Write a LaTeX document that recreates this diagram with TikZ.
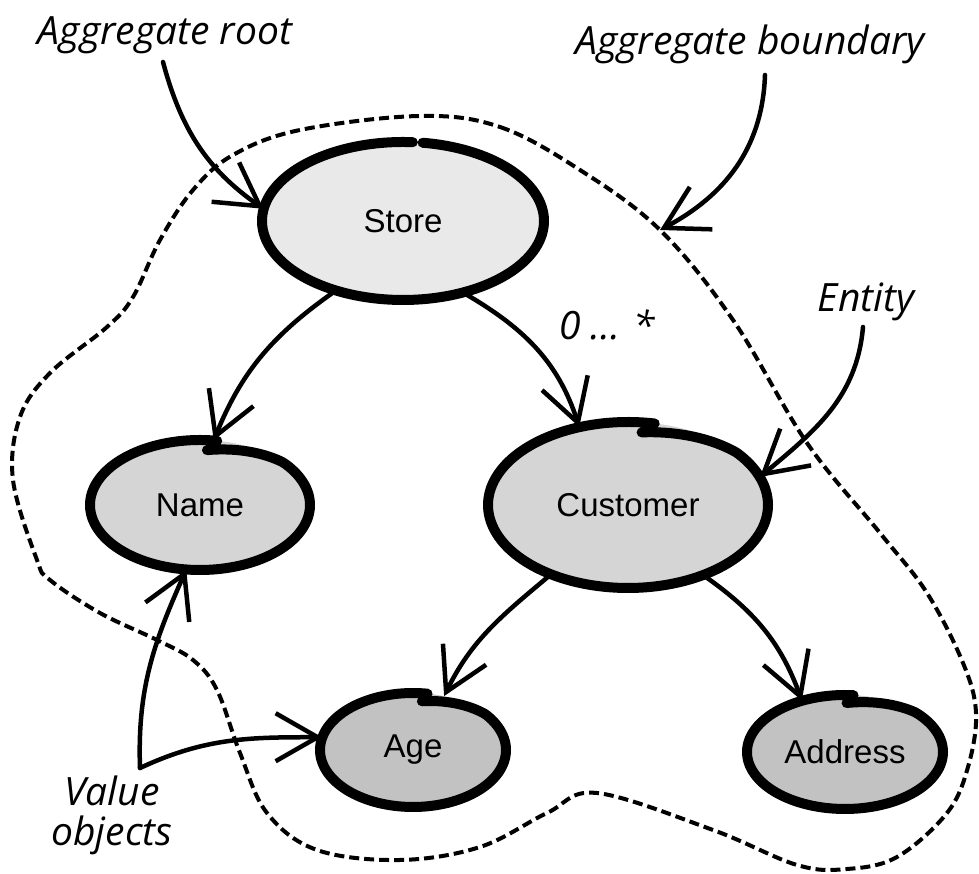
\documentclass[tikz,border=0pt]{standalone}
\usepackage{fontspec}
\setmainfont{Liberation Sans}
\newfontfamily\handfont{Open Sans}
\usetikzlibrary{arrows.meta,shapes.geometric}

\definecolor{rootfill}{HTML}{E9E9E9}
\definecolor{midfill}{HTML}{D5D5D5}
\definecolor{leaffill}{HTML}{C2C2C2}

% Hand-drawn outline of an ellipse node: a single stroke that starts slightly
% inside the rim at angle #4 and runs clockwise through #5 degrees.
% #1 node, #2 x radius, #3 y radius, #4 start angle, #5 sweep, #6 inward offset at start
\newcommand\rimstroke[6]{%
  \draw[rim, shift={(#1.center)}]
    plot[smooth, domain=#4:{#4-#5}, samples=140, variable=\t]
    ({(#2-#6*max(0,1-(#4-\t)/45))*cos(\t)},
     {(#3-#6*max(0,1-(#4-\t)/45))*sin(\t)});}

\tikzset{
  blob/.style={ellipse, inner sep=0pt, draw=none,
    font=\fontsize{33}{36}\selectfont, text=black},
  rim/.style={line width=10pt, line cap=round, line join=round},
  link/.style={line width=4.5pt, line cap=round,
    -{Straight Barb[length=42pt, width=48pt]}},
  hand/.style={font=\handfont\itshape\fontsize{39}{40}\selectfont, inner sep=0pt},
  boundary/.style={line width=4pt, dash pattern=on 10pt off 5pt},
}

\begin{document}
\begin{tikzpicture}[x=1pt, y=1pt]
\useasboundingbox (0,0) rectangle (979,874);

% aggregate boundary
\draw[boundary] plot[smooth cycle, tension=0.6] coordinates {
  (420,758) (500,747) (580,704) (660,644) (733,554) (807,431) (880,341)
  (927,281) (963,211) (976,161) (968,107) (947,61) (897,17) (847,5)
  (797,9) (713,44) (597,81) (547,61) (480,27) (400,14) (317,24) (267,61)
  (240,121) (217,184) (193,214) (157,234) (100,261) (50,294) (37,314)
  (13,394) (20,457) (50,501) (107,547) (133,577) (160,634) (193,684)
  (233,719) (300,744)};

% objects of the aggregate
\node[blob, fill=rootfill, minimum width=282pt, minimum height=158pt] (store) at (403,653) {Store};
\node[blob, fill=midfill, minimum width=220pt, minimum height=130pt] (name) at (200,369) {Name};
\node[blob, fill=midfill, minimum width=280pt, minimum height=166pt] (customer) at (628,369) {Customer};
\node[blob, fill=leaffill, minimum width=186pt, minimum height=114pt] (age) at (413,124) {Age};
\node[blob, fill=leaffill, minimum width=196pt, minimum height=114pt] (address) at (845,122) {Address};

\rimstroke{store}{141}{79}{82}{356}{0}
\rimstroke{name}{110}{65}{86}{365}{10}
\rimstroke{customer}{140}{83}{84}{365}{10}
\rimstroke{age}{93}{57}{84}{363}{8}
\rimstroke{address}{98}{57}{89}{364}{8}

% annotations
\node[hand, anchor=base] (ar) at (165,829) {Aggregate root};
\node[hand, anchor=base] (ab) at (750,819) {Aggregate boundary};
\node[hand, anchor=base] (ent) at (866,562) {Entity};
\node[hand, anchor=base] (card) at (607,534) {0 ... *};
\node[hand, align=center] (vo) at (112,59) {Value\\objects};

\coordinate (arS) at (163,812);
\coordinate (abS) at (765,799);
\coordinate (abE) at (660,644);
\coordinate (entS) at (863,547);
\coordinate (voJ) at (140,106);

% relations
\draw[link] (store.226) to[out=215, in=68] (name.78);
\draw[link] (store.-50) to[out=-30, in=108] (customer.122);
\draw[link] (customer.222) to[out=220, in=64] (age.60);
\draw[link] (customer.-43) to[out=-35, in=110] (address.130);

% annotation pointers
\draw[link] (arS) to[out=-75, in=145] (store.175);
\draw[link] (abS) to[out=-92, in=28] (abE);
\draw[link] (entS) to[out=-95, in=40] (customer.12);
\draw[link] (voJ) to[out=92, in=246] (name.258);
\draw[link] (voJ) to[out=25, in=180] (age.172);
\end{tikzpicture}
\end{document}
